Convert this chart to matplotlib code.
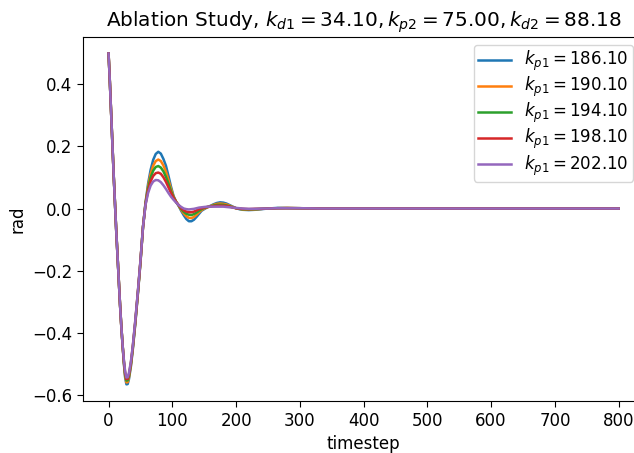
import matplotlib
matplotlib.use("Agg")
import matplotlib.pyplot as plt

timestep = [0, 2, 4, 6, 8, 10, 12, 14, 16, 18, 20, 22, 24, 26, 28, 30, 32, 35, 38, 42, 46, 50,
            54, 58, 62, 66, 70, 74, 78, 82, 86, 90, 94, 98, 102, 106, 110, 114, 118, 122, 126,
            130, 134, 138, 142, 146, 150, 155, 160, 165, 170, 175, 180, 185, 190, 195, 200,
            205, 210, 220, 230, 240, 250, 265, 280, 300, 330, 800]

kp1_186 = [0.5, 0.41, 0.31, 0.21, 0.11, 0.02, -0.07, -0.15, -0.23, -0.31, -0.38, -0.44, -0.50, -0.545,
           -0.567, -0.566, -0.55, -0.51, -0.455, -0.37, -0.275, -0.175,
           -0.06, 0.02, 0.08, 0.125, 0.157, 0.176, 0.183, 0.177, 0.16, 0.138, 0.105, 0.07, 0.04,
           0.022, 0.008, -0.008, -0.022, -0.034, -0.041, -0.041, -0.036, -0.027, -0.017, -0.007,
           -0.002, 0.004, 0.009, 0.014, 0.018, 0.02, 0.019, 0.016, 0.011, 0.006, 0.001,
           -0.002, -0.004, -0.005, -0.004, -0.002, 0.0, 0.002, 0.002, 0.001, 0.0, 0.0]
kp1_190 = [0.5, 0.41, 0.31, 0.21, 0.11, 0.02, -0.07, -0.15, -0.23, -0.31, -0.38, -0.44, -0.497, -0.54,
           -0.561, -0.56, -0.545, -0.506, -0.452, -0.368, -0.273, -0.174,
           -0.06, 0.018, 0.072, 0.112, 0.138, 0.153, 0.158, 0.153, 0.139, 0.119, 0.092, 0.063, 0.038,
           0.022, 0.009, -0.005, -0.016, -0.025, -0.030, -0.031, -0.027, -0.02, -0.012, -0.005,
           0.0, 0.004, 0.008, 0.012, 0.015, 0.016, 0.015, 0.013, 0.009, 0.005, 0.001,
           -0.001, -0.003, -0.004, -0.003, -0.001, 0.0, 0.001, 0.002, 0.001, 0.0, 0.0]
kp1_194 = [0.5, 0.41, 0.31, 0.21, 0.11, 0.02, -0.07, -0.15, -0.23, -0.31, -0.38, -0.44, -0.494, -0.535,
           -0.555, -0.554, -0.54, -0.502, -0.449, -0.365, -0.271, -0.172,
           -0.06, 0.016, 0.065, 0.1, 0.122, 0.134, 0.137, 0.132, 0.12, 0.102, 0.08, 0.056, 0.036,
           0.021, 0.01, -0.002, -0.011, -0.017, -0.02, -0.021, -0.018, -0.013, -0.007, -0.002,
           0.002, 0.005, 0.007, 0.01, 0.012, 0.012, 0.012, 0.01, 0.007, 0.004, 0.001,
           -0.001, -0.002, -0.003, -0.002, -0.001, 0.0, 0.001, 0.001, 0.001, 0.0, 0.0]
kp1_198 = [0.5, 0.41, 0.31, 0.21, 0.11, 0.02, -0.07, -0.15, -0.23, -0.31, -0.38, -0.44, -0.491, -0.53,
           -0.55, -0.549, -0.535, -0.498, -0.446, -0.362, -0.269, -0.17,
           -0.06, 0.014, 0.058, 0.088, 0.105, 0.114, 0.116, 0.112, 0.101, 0.086, 0.068, 0.05, 0.034,
           0.021, 0.011, 0.001, -0.006, -0.01, -0.012, -0.012, -0.01, -0.006, -0.002, 0.001,
           0.003, 0.005, 0.006, 0.008, 0.009, 0.009, 0.009, 0.008, 0.006, 0.003, 0.001,
           0.0, -0.001, -0.002, -0.001, -0.001, 0.0, 0.001, 0.001, 0.001, 0.0, 0.0]
kp1_202 = [0.5, 0.41, 0.31, 0.21, 0.11, 0.02, -0.07, -0.15, -0.23, -0.31, -0.38, -0.44, -0.488, -0.525,
           -0.545, -0.544, -0.53, -0.494, -0.443, -0.359, -0.267, -0.168,
           -0.06, 0.012, 0.05, 0.074, 0.087, 0.092, 0.091, 0.085, 0.075, 0.063, 0.05, 0.038, 0.028,
           0.019, 0.011, 0.005, 0.0, -0.002, -0.003, -0.002, -0.001, 0.001, 0.003, 0.004,
           0.005, 0.006, 0.006, 0.006, 0.006, 0.006, 0.006, 0.005, 0.004, 0.003, 0.002,
           0.001, 0.0, -0.001, -0.001, 0.0, 0.0, 0.001, 0.001, 0.001, 0.0, 0.0]

series = [kp1_186, kp1_190, kp1_194, kp1_198, kp1_202]
labels = [r'$k_{p1} = 186.10$', r'$k_{p1} = 190.10$', r'$k_{p1} = 194.10$',
          r'$k_{p1} = 198.10$', r'$k_{p1} = 202.10$']
title = r'Ablation Study, $k_{d1} = 34.10, k_{p2} = 75.00, k_{d2} = 88.18$'

fig = plt.figure(figsize=(6.34, 4.53), dpi=100)
# axes runs past the right edge like the cropped reference
ax = fig.add_axes([0.131, 0.115, 0.885, 0.8035])

for vals, lab in zip(series, labels):
    ax.plot(timestep, vals, label=lab, linewidth=1.8)

ax.set_title(title, fontsize=14.4, pad=7)
ax.set_xlabel('timestep', fontsize=12)
ax.set_ylabel('rad', fontsize=12)
ax.set_xticks(range(0, 801, 100))
ax.set_yticks([-0.6, -0.4, -0.2, 0.0, 0.2, 0.4])
ax.tick_params(labelsize=12, length=4.2)
ax.legend(fontsize=12, loc='upper right', labelspacing=0.11, borderpad=0.25,
          bbox_to_anchor=(633 / 634, 408 / 453), bbox_transform=fig.transFigure,
          borderaxespad=0)

fig.savefig('out.png', dpi=100)
